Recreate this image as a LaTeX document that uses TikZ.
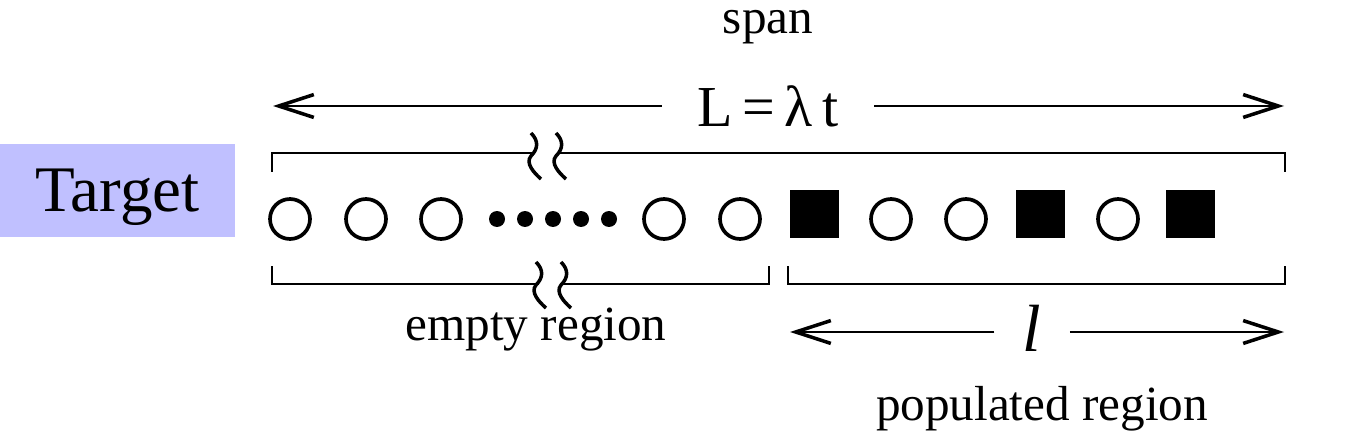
\documentclass[tikz,border=0pt]{standalone}
\usepackage{fontspec}
\setmainfont{Liberation Serif}
\usetikzlibrary{arrows.meta}
\definecolor{tgtfill}{HTML}{C0C0FF}
\tikzset{
  tgt/.style={fill=tgtfill,minimum width=4.7cm,minimum height=1.86cm,inner sep=0pt,text depth=0pt,font=\fontsize{37}{40}\selectfont},
  ring/.style={draw,circle,line width=2.1pt,minimum size=0.8cm,inner sep=0pt},
  blk/.style={fill,rectangle,minimum size=0.98cm,inner sep=0pt},
  dot/.style={fill,circle,minimum size=0.32cm,inner sep=0pt},
  lbl/.style={font=\fontsize{28}{30}\selectfont,inner sep=0pt,anchor=base},
  brack/.style={line width=1.1pt},
  dimarr/.style={line width=1.1pt,-{Straight Barb[length=20pt,width=13pt,line width=2pt]}},
  brk/.pic={\draw[line width=2pt] (0,0) .. controls (8,8) and (7,16) .. (0,23) .. controls (-6,30) and (3,40) .. (10,46);}
}
\begin{document}
\begin{tikzpicture}[x=0.02cm,y=-0.02cm]
  \useasboundingbox (0,0) rectangle (1365,432);
  \node[tgt] (tgt) at (117.5,190.5) {Target};
  % sites
  \foreach \x/\n in {290/c1,366/c2,441/c3,664/c4,740/c5,891/c6,966/c7,1118/c8}
    \node[ring] (\n) at (\x,219) {};
  \foreach \x [count=\i] in {497,525,553,581,609}
    \node[dot] (d\i) at (\x,219) {};
  \foreach \x [count=\i] in {814,1040,1190}
    \node[blk] (s\i) at (\x,214) {};
  % brackets
  \draw[brack] (272,172) |- (533,153);
  \draw[brack] (558,153) -| (1285,172);
  \draw[brack] (272,266) |- (539,284);
  \draw[brack] (563,284) -| (769,266);
  \draw[brack] (788,266) |- (1285,284) -- (1285,266);
  \pic at (531,133) {brk}; \pic at (556,133) {brk};
  \pic at (536,262) {brk}; \pic at (561,262) {brk};
  % labels
  \node[lbl] (span) at (768,34) {span};
  \node[lbl,font=\fontsize{33}{36}\selectfont,inner xsep=20pt] (Llab) at (768,127) {L\,=\,λ\,t};
  \coordinate (spanL) at (273,106);
  \coordinate (spanR) at (1284,106);
  \draw[dimarr] (Llab.west |- spanL) -- (spanL);
  \draw[dimarr] (Llab.east |- spanR) -- (spanR);
  \node[lbl,font=\fontsize{38}{40}\selectfont\itshape,inner xsep=16pt] (llab) at (1032,351) {l};
  \coordinate (popL) at (790,332);
  \coordinate (popR) at (1284,332);
  \draw[dimarr] (llab.west |- popL) -- (popL);
  \draw[dimarr] (llab.east |- popR) -- (popR);
  \node[lbl] (empty) at (536,340) {empty region};
  \node[lbl] (pop) at (1042,420) {populated region};
\end{tikzpicture}
\end{document}
